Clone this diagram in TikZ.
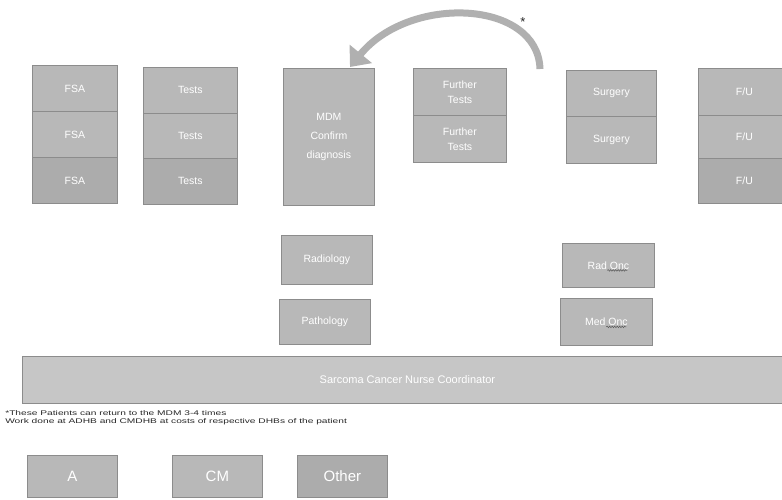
\documentclass[tikz,border=0pt]{standalone}
\usepackage{fontspec}
\setmainfont{Liberation Sans}
\usetikzlibrary{arrows.meta,decorations.pathmorphing}
\definecolor{boxfill}{RGB}{184,184,184}
\definecolor{boxdark}{RGB}{172,172,172}
\definecolor{boxedge}{RGB}{140,140,140}
\definecolor{barfill}{RGB}{198,198,198}
\definecolor{arcgray}{RGB}{176,176,176}
\definecolor{notegray}{RGB}{40,40,40}
\begin{document}
\begin{tikzpicture}[x=1pt,y=-1pt,
  cell/.style={draw=boxedge, line width=0.8pt, fill=boxfill, text=white,
    anchor=north west, inner sep=0pt, align=center,
    font=\fontsize{10.5}{15}\selectfont},
  darkcell/.style={cell, fill=boxdark},
  bigcell/.style={cell, font=\fontsize{15}{18}\selectfont},
  squiggle/.style={draw=gray!70!black, line width=0.5pt,
    decorate, decoration={snake, amplitude=0.8pt, segment length=2.5pt}},
  note/.style={anchor=west, inner sep=0pt, text=notegray, xscale=1.5,
    font=\fontsize{6.8}{8}\selectfont}]
\useasboundingbox (0,0) rectangle (782,499);
\clip (0,0) rectangle (782,499);
\fill[white] (0,0) rectangle (782,499);

% first assessment column
\node[cell, minimum width=85pt, minimum height=46pt] (fsa1) at (32,65) {FSA};
\node[cell, minimum width=85pt, minimum height=46pt] (fsa2) at (32,111) {FSA};
\node[darkcell, minimum width=85pt, minimum height=46pt] (fsa3) at (32,157) {FSA};

% tests column
\node[cell, minimum width=94pt, minimum height=46pt] (tst1) at (143,67) {Tests};
\node[cell, minimum width=94pt, minimum height=45pt] (tst2) at (143,113) {Tests};
\node[darkcell, minimum width=94pt, minimum height=46pt] (tst3) at (143,158) {Tests};

% MDM
\node[cell, minimum width=91pt, minimum height=137pt,
  font=\fontsize{10.5}{19}\selectfont] (mdm) at (283,68) {MDM\\Confirm\\diagnosis};

% further tests
\node[cell, minimum width=93pt, minimum height=47pt] (ft1) at (413,68) {Further\\Tests};
\node[cell, minimum width=93pt, minimum height=47pt] (ft2) at (413,115) {Further\\Tests};

% surgery
\node[cell, minimum width=90pt, minimum height=46pt] (sg1) at (566,70) {Surgery};
\node[cell, minimum width=90pt, minimum height=47pt] (sg2) at (566,116) {Surgery};

% follow-up column
\node[cell, minimum width=92pt, minimum height=47pt] (fu1) at (698,68) {F/U};
\node[cell, minimum width=92pt, minimum height=43pt] (fu2) at (698,115) {F/U};
\node[darkcell, minimum width=92pt, minimum height=45pt] (fu3) at (698,158) {F/U};

% specialist boxes
\node[cell, minimum width=91pt, minimum height=49pt] (rad) at (281,235) {Radiology};
\node[cell, minimum width=91pt, minimum height=45pt] (path) at (279,299) {Pathology};
\node[cell, minimum width=92pt, minimum height=44pt] (radonc) at (562,243) {Rad Onc};
\node[cell, minimum width=92pt, minimum height=47pt] (medonc) at (560,298) {Med Onc};
\draw[squiggle] ([xshift=-1pt,yshift=-5pt]radonc.center) -- ++(20,0);
\draw[squiggle] ([xshift=0pt,yshift=-5pt]medonc.center) -- ++(20,0);

% coordinator bar
\node[cell, fill=barfill, minimum width=770pt, minimum height=47pt] (bar) at (22,356) {};
\node[text=white, font=\fontsize{11}{13}\selectfont] (bartext) at (bar.center)
  {Sarcoma Cancer Nurse Coordinator};

% notes
\node[note] (note1) at (5,413) {*These Patients can return to the MDM 3-4 times};
\node[note] (note2) at (5,422) {Work done at ADHB and CMDHB at costs of respective DHBs of the patient};

% hospitals
\node[bigcell, minimum width=90pt, minimum height=42pt] (a) at (27,455) {A};
\node[bigcell, minimum width=90pt, minimum height=42pt] (cm) at (172,455) {CM};
\node[bigcell, fill=boxdark, minimum width=90pt, minimum height=42pt] (other) at (297,455) {Other};

% return arrow to the MDM
\coordinate (arcstart) at (540,69);
\coordinate (arctip) at (350,67);
\draw[arcgray, line width=7pt, -{Triangle[width=28pt,length=17pt]}]
  (arcstart) .. controls (538,0) and (410,-6) .. (arctip);
\node[text=notegray, font=\fontsize{13}{13}\selectfont] (star) at (523,22) {*};
\end{tikzpicture}
\end{document}
